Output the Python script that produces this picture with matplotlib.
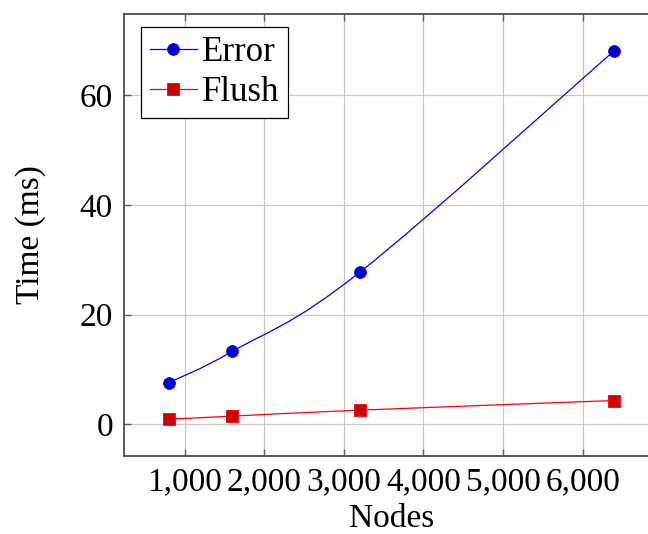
import matplotlib.pyplot as plt
import numpy as np
from matplotlib.path import Path
from matplotlib.patches import PathPatch
from matplotlib.ticker import FuncFormatter

nodes = [800, 1600, 3200, 6400]
error_ms = [7.6, 13.3, 27.7, 68.1]
flush_ms = [0.95, 1.5, 2.6, 4.35]

plt.rcParams["font.family"] = ["Liberation Serif", "DejaVu Serif"]
plt.rcParams["mathtext.fontset"] = "stix"

FS = 24


def smooth_path(xs, ys, tension=0.18):
    # tikz "smooth" style: cubic bezier through the points
    pts = np.column_stack([xs, ys]).astype(float)
    n = len(pts)
    verts = [pts[0]]
    codes = [Path.MOVETO]
    for i in range(n - 1):
        p0 = pts[i - 1] if i > 0 else pts[i]
        p1, p2 = pts[i], pts[i + 1]
        p3 = pts[i + 2] if i + 2 < n else pts[i + 1]
        c1 = p1 + tension * (p2 - p0)
        c2 = p2 - tension * (p3 - p1)
        verts += [c1, c2, p2]
        codes += [Path.CURVE4] * 3
    return Path(verts, codes)


fig = plt.figure(figsize=(6.48, 5.34), dpi=100)
ax = fig.add_axes([124 / 648, 78 / 534, 535 / 648, 442 / 534])

series = [
    ("Error", error_ms, (0, 0, 1), (0, 0, 0.8), "o", 8.5),
    ("Flush", flush_ms, (1, 0, 0), (0.8, 0, 0), "s", 8.3),
]
for label, vals, col, mcol, mk, ms in series:
    ax.add_patch(PathPatch(smooth_path(nodes, vals), fill=False,
                           edgecolor=col, lw=0.9, zorder=3))
    ax.plot(nodes, vals, ls="none", marker=mk, ms=ms, mfc=mcol,
            mec=col, mew=0.6, zorder=4)
    ax.plot([], [], color=col, lw=0.9, marker=mk, ms=ms, mfc=mcol,
            mec=col, mew=0.6, label=label)

ax.set_xlim(240, 6960)
ax.set_ylim(-5.75, 74.75)
ax.set_xticks([1000, 2000, 3000, 4000, 5000, 6000])
ax.set_yticks([0, 20, 40, 60])
ax.xaxis.set_major_formatter(FuncFormatter(lambda v, p: f"{int(v):,}"))

ax.grid(True, color="#c8c8c8", lw=0.9)
ax.set_axisbelow(True)
for s in ax.spines.values():
    s.set_color("#404040")
    s.set_linewidth(1.2)
ax.tick_params(direction="in", length=5, width=1.0, color="#606060",
               top=True, right=True, labelsize=FS, pad=8)

ax.set_xlabel("Nodes", fontsize=FS, labelpad=4)
ax.set_ylabel("Time (ms)", fontsize=FS, labelpad=24)

leg = ax.legend(loc="upper left", bbox_to_anchor=(0.032, 0.9706),
                borderaxespad=0, fontsize=25, fancybox=False,
                edgecolor="black", framealpha=1, handlelength=1.35,
                handletextpad=0.16, labelspacing=0.21, borderpad=0.25)
leg.get_frame().set_linewidth(0.9)

fig.savefig("out.png", dpi=100)
plt.close(fig)
